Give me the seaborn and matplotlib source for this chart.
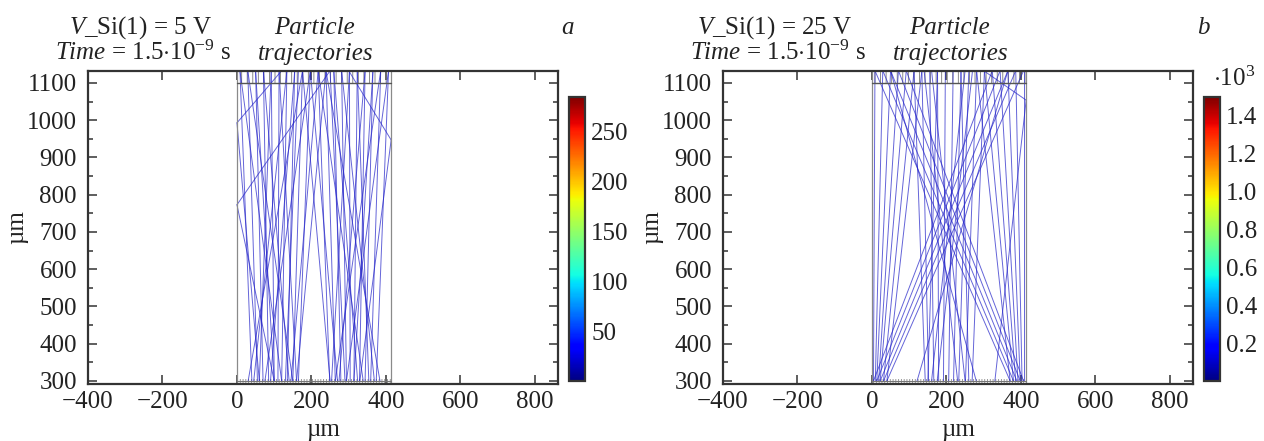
import numpy as np
import pandas as pd
import matplotlib
matplotlib.use("Agg")
import matplotlib.pyplot as plt
import seaborn as sns
from matplotlib.patches import Rectangle
from matplotlib.colors import Normalize
from matplotlib.cm import ScalarMappable
from matplotlib.ticker import MultipleLocator

# ---------------- data ----------------
x_lim = [-400, 862]
y_lim = [291, 1133]
box_x = [0, 414]          # device region (µm)
box_y = [300, 1100]
x_ticks = [-400, -200, 0, 200, 400, 600, 800]
y_ticks = [300, 400, 500, 600, 700, 800, 900, 1000, 1100]

# panel a trajectories: straight segments (x0, y0) -> (x1, y1)
a_x0 = [8, 29, 50, 71, 92, 113, 134, 155, 176, 197,
        8, 29, 50, 71, 92, 113, 134, 155, 176, 197,
        407, 386, 365, 344, 323, 302, 281, 260, 239, 218,
        407, 386, 365, 344, 323, 302, 281, 260, 239, 218,
        176, 197, 218, 239, 165, 250,
        120, 0, 250, 0, 300, 414]
a_y0 = [1133] * 46 + [1133, 993, 1133, 773, 1133, 947]
a_x1 = [40, 55, 70, 85, 100, 110, 120, 135, 150, 165,
        120, 150, 100, 140, 60, 160, 45, 90, 30, 75,
        374, 359, 344, 329, 314, 304, 294, 279, 264, 249,
        294, 264, 314, 274, 354, 254, 369, 324, 384, 339,
        250, 270, 145, 160, 130, 290,
        0, 60, 0, 100, 414, 330]
a_y1 = [300] * 46 + [993, 300, 773, 300, 947, 300]

# panel b trajectories
b_x0 = [8, 29, 50, 71, 92, 113, 134,
        281, 302, 323, 344, 365, 386, 407,
        113, 134, 155, 176, 197, 218, 239, 260, 281, 302,
        8, 29, 50, 71, 92,
        323, 344, 365, 386, 407,
        140, 160, 250, 270, 176, 239,
        365, 50, 300, 414]
b_y0 = [1133] * 43 + [1054]
b_x1 = [4, 9, 13, 18, 22, 31, 40,
        371, 380, 386, 392, 398, 403, 407,
        143, 152, 166, 179, 192, 206, 219, 233, 251, 269,
        371, 380, 389, 398, 407,
        4, 13, 22, 31, 40,
        230, 250, 160, 175, 150, 260,
        121, 280, 414, 330]
b_y1 = [300] * 42 + [1054, 300]

cb_a_range = [1, 284]
cb_a_ticks = [50, 100, 150, 200, 250]
cb_b_range = [0, 1.5]
cb_b_ticks = [0.2, 0.4, 0.6, 0.8, 1.0, 1.2, 1.4]

# ---------------- style ----------------
sns.set_style("ticks")
plt.rcParams["font.family"] = ["Liberation Serif", "DejaVu Serif"]
plt.rcParams["mathtext.fontset"] = "custom"
plt.rcParams["mathtext.rm"] = "Liberation Serif"
plt.rcParams["mathtext.it"] = "Liberation Serif:italic"
plt.rcParams["hatch.linewidth"] = 0.6

W, H = 1264, 441
FS = 18
DARK = "#333333"
TXT = "#222222"
fig = plt.figure(figsize=(W / 100, H / 100), dpi=100)


def px_rect(x0, y0, x1, y1):
    return [x0 / W, 1 - y1 / H, (x1 - x0) / W, (y1 - y0) / H]


def seg_frame(x0, y0, x1, y1):
    rows = []
    for i, (a, b, c, d) in enumerate(zip(x0, y0, x1, y1)):
        rows.append((i, a, b))
        rows.append((i, c, d))
    return pd.DataFrame(rows, columns=["seg", "x", "y"])


def panel(off, x0, y0, x1, y1, rng, ticks, fmt, tag, volt, exp_lbl):
    ax = fig.add_axes(px_rect(88 + off, 70.7, 558 + off, 384.3))
    df = seg_frame(x0, y0, x1, y1)
    sns.lineplot(data=df, x="x", y="y", units="seg", estimator=None, sort=False,
                 color="#2323c8", lw=0.7, alpha=0.7, ax=ax, legend=False)
    # device box
    ax.plot([box_x[0], box_x[0]], y_lim, color="#8a8a8a", lw=0.9)
    ax.plot([box_x[1], box_x[1]], y_lim, color="#8a8a8a", lw=0.9)
    ax.plot(box_x, [box_y[1], box_y[1]], color="#555555", lw=1.0)
    ax.plot(box_x, [box_y[0], box_y[0]], color="#777777", lw=0.8)
    ax.add_patch(Rectangle((box_x[0], box_y[1]), box_x[1] - box_x[0], y_lim[1] - box_y[1],
                           fill=False, hatch="|||", edgecolor="#777777", lw=0))
    ax.add_patch(Rectangle((box_x[0], y_lim[0]), box_x[1] - box_x[0], 14,
                           fill=False, hatch="||||||", edgecolor="#888888", lw=0))
    ax.set_xlim(x_lim)
    ax.set_ylim(y_lim)
    ax.set_xticks(x_ticks)
    ax.set_yticks(y_ticks)
    ax.yaxis.set_minor_locator(MultipleLocator(50))
    ax.set_xticklabels([str(v).replace("-", "\u2212") for v in x_ticks])
    ax.tick_params(which="both", direction="in", top=True, right=True,
                   colors=DARK, labelcolor=TXT, labelsize=FS, width=1.1)
    ax.tick_params(which="major", length=6.5)
    ax.tick_params(which="minor", length=3.6)
    ax.tick_params(axis="x", pad=5)
    ax.tick_params(axis="y", pad=8)
    for s in ax.spines.values():
        s.set_color(DARK)
        s.set_linewidth(1.6)
    ax.set_xlabel("µm", fontsize=FS, color=TXT, va="baseline")
    ax.xaxis.set_label_coords(0.5, -(436 - 384.3) / 313.6)
    ax.set_ylabel("µm", fontsize=FS, color=TXT)
    ax.yaxis.set_label_coords(-(88 - 28) / 470, 0.5)

    cax = fig.add_axes(px_rect(569 + off, 97, 585 + off, 381))
    sm = ScalarMappable(norm=Normalize(*rng), cmap="jet")
    cb = fig.colorbar(sm, cax=cax, ticks=ticks, format=fmt)
    cb.outline.set_edgecolor(DARK)
    cb.outline.set_linewidth(1.6)
    cax.tick_params(direction="in", length=7, width=1.1, colors=DARK,
                    labelcolor=TXT, labelsize=FS, pad=4.5)

    # annotations
    fig.text((140 + off) / W, 1 - 34 / H, volt, fontsize=FS, color=TXT,
             ha="center", va="baseline")
    fig.text((143 + off) / W, 1 - 60 / H,
             r"$\mathit{Time}$ = 1.5$\cdot$10$^{\mathregular{-9}}$ s",
             fontsize=FS, color=TXT, ha="center", va="baseline")
    fig.text((315 + off) / W, 1 - 34 / H, "Particle", fontsize=FS, color=TXT,
             ha="center", va="baseline", style="italic")
    fig.text((316 + off) / W, 1 - 60 / H, "trajectories", fontsize=FS, color=TXT,
             ha="center", va="baseline", style="italic")
    fig.text((568 + off) / W, 1 - 34 / H, tag, fontsize=FS, color=TXT,
             ha="center", va="baseline", style="italic")
    if exp_lbl:
        fig.text((1213) / W, 1 - 86 / H, exp_lbl, fontsize=FS, color=TXT,
                 ha="left", va="baseline")


panel(0, a_x0, a_y0, a_x1, a_y1, cb_a_range, cb_a_ticks, "%d", "a",
      r"$V$_Si(1) = 5 V", None)
panel(635, b_x0, b_y0, b_x1, b_y1, cb_b_range, cb_b_ticks, "%.1f", "b",
      r"$V$_Si(1) = 25 V", r"$\cdot$10$^{\mathregular{3}}$")

fig.savefig("out.png", dpi=100)
